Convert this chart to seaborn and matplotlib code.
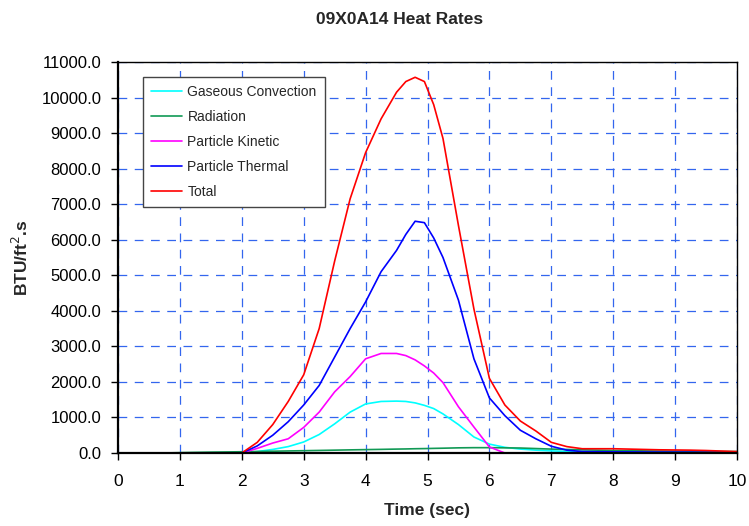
import numpy as np
import pandas as pd
import matplotlib
matplotlib.use("Agg")
import matplotlib.pyplot as plt
import seaborn as sns

time = [0, 0.25, 0.5, 0.75, 1.0, 1.25, 1.5, 1.75, 2.0, 2.25, 2.5, 2.75, 3.0, 3.25, 3.5,
        3.75, 4.0, 4.25, 4.5, 4.65, 4.8, 4.95, 5.1, 5.25, 5.5, 5.75, 6.0, 6.25, 6.5, 6.75, 7.0,
        7.25, 7.5, 7.75, 8.0, 8.25, 8.5, 8.75, 9.0, 9.25, 9.5, 9.75, 10.0]

gaseous_convection = [0, 0, 0, 0, 0, 0, 0, 0, 0, 40, 100, 180, 310, 520, 820,
                      1150, 1380, 1450, 1460, 1450, 1410, 1340, 1250, 1100, 800, 450, 250, 160, 110, 80, 60,
                      45, 40, 38, 35, 32, 30, 28, 26, 24, 22, 21, 20]
radiation = [0, 0, 0, 0, 10, 18, 25, 30, 35, 42, 50, 58, 65, 72, 80,
             88, 95, 102, 110, 114, 120, 124, 130, 135, 145, 150, 150, 145, 140, 125, 110,
             100, 90, 80, 70, 65, 60, 55, 50, 48, 45, 42, 40]
particle_kinetic = [0, 0, 0, 0, 0, 0, 0, 0, 0, 130, 280, 400, 720, 1150, 1720,
                    2150, 2650, 2800, 2800, 2740, 2620, 2450, 2250, 1980, 1300, 730, 170, 0, 0, 0, 0,
                    0, 0, 0, 0, 0, 0, 0, 0, 0, 0, 0, 0]
particle_thermal = [0, 0, 0, 0, 0, 0, 0, 0, 0, 200, 500, 880, 1350, 1900, 2700,
                    3500, 4250, 5100, 5700, 6150, 6520, 6480, 6050, 5500, 4300, 2650, 1550, 1050, 640, 400, 190,
                    80, 40, 35, 32, 30, 28, 26, 25, 23, 22, 21, 20]
total = [0, 0, 0, 0, 0, 0, 0, 0, 0, 300, 800, 1450, 2200, 3500, 5400,
         7150, 8450, 9400, 10150, 10450, 10570, 10450, 9800, 8850, 6400, 4050, 2100, 1350, 900, 620, 300,
         180, 120, 120, 120, 110, 100, 90, 85, 80, 70, 55, 40]

series_names = ["Gaseous Convection", "Radiation", "Particle Kinetic", "Particle Thermal", "Total"]
series_values = [gaseous_convection, radiation, particle_kinetic, particle_thermal, total]
colors = ["#00ffff", "#119955", "#ff00ff", "#0000ff", "#ff0000"]

df = pd.concat([pd.DataFrame({"Time": time, "Value": v, "Series": n})
                for n, v in zip(series_names, series_values)], ignore_index=True)

sns.set_style("white")
plt.rcParams['font.family'] = ['Liberation Sans', 'DejaVu Sans']

fig = plt.figure(figsize=(7.49, 5.26), dpi=100)
ax = fig.add_axes([118/749, 1-453/526, (737-118)/749, (453-62)/526])

sns.lineplot(data=df, x="Time", y="Value", hue="Series", palette=dict(zip(series_names, colors)),
             hue_order=series_names, ax=ax, linewidth=1.2, legend=True)

ax.set_xlim(0, 10)
ax.set_ylim(0, 11000)
ax.set_xticks(range(0, 11))
ax.set_yticks(np.arange(0, 11001, 1000))
ax.set_yticklabels([f"{v:.1f}" for v in np.arange(0, 11001, 1000)], fontsize=12)
ax.set_xticklabels([str(i) for i in range(0, 11)], fontsize=12.5)
ax.grid(True, color="#3366ee", linestyle=(0, (7, 6)), linewidth=0.9)
for s in ax.spines.values():
    s.set_color("black")
    s.set_linewidth(1.0)
ax.spines['left'].set_linewidth(1.6)
ax.spines['bottom'].set_linewidth(1.6)
ax.tick_params(axis="both", direction="out", length=5, width=1, colors="black",
               left=True, bottom=True)
ax.tick_params(axis="x", pad=10)
ax.tick_params(axis="y", pad=7)

ax.set_xlabel("Time (sec)", fontsize=12.5, fontweight="bold", labelpad=10)
ax.set_ylabel("BTU/ft$^2$.s", fontsize=12.5, fontweight="bold")
ax.yaxis.set_label_coords((31 - 118) / 619, 0.5)
fig.text(400/749, 1-20/526, "09X0A14 Heat Rates", ha="center", va="center",
         fontsize=12.5, fontweight="bold")

leg = ax.legend(loc="upper left", bbox_to_anchor=(25/619, 1-15/391), fontsize=10,
                frameon=True, fancybox=False, edgecolor="#444444", framealpha=1,
                handlelength=2.2, handletextpad=0.4, labelspacing=0.78, borderpad=0.6,
                borderaxespad=0)
leg.get_frame().set_linewidth(1.0)

fig.savefig("out.png", dpi=100)
